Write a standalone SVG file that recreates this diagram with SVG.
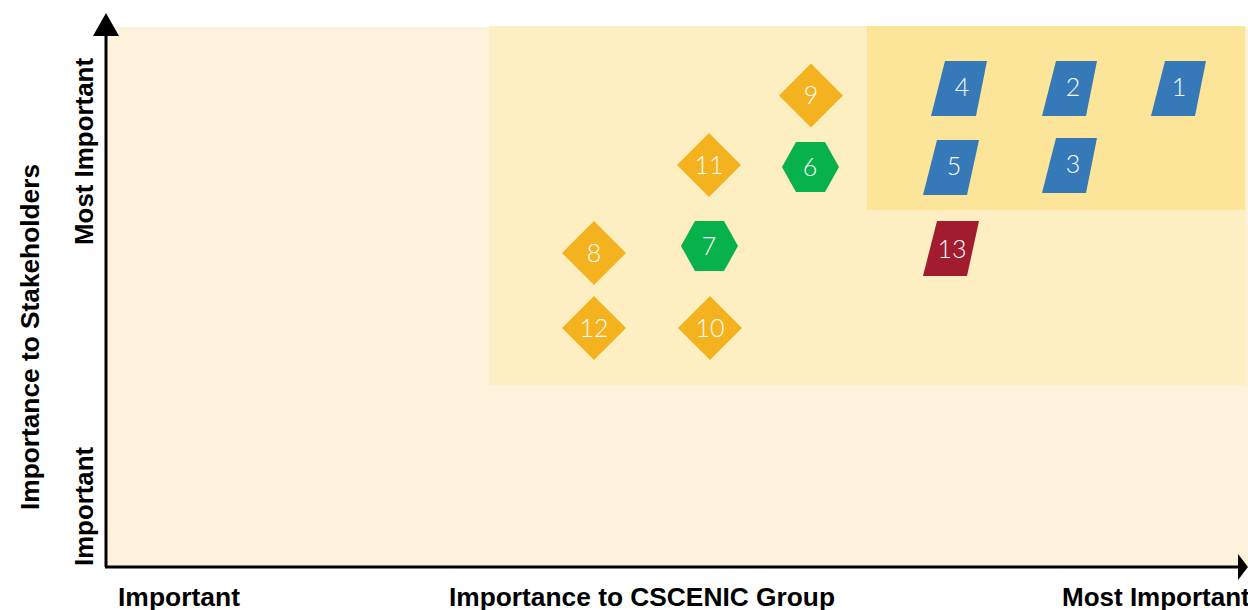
<svg xmlns="http://www.w3.org/2000/svg" width="1248" height="610" viewBox="0 0 1248 610">
<defs>
<style>
.lbl{font-family:"Lato","Open Sans","Liberation Sans",sans-serif;font-weight:300;font-size:25px;fill:#ffffff;text-anchor:middle}
.ax{font-family:"Liberation Sans",Arial,sans-serif;font-weight:bold;font-size:26px;fill:#000000}
.dia{fill:#F5B21F}
.hex{fill:#07B14C}
.par{fill:#3579B8}
.red{fill:#A11C2F}
.axis{stroke:#000;stroke-width:3;fill:none}
</style>
</defs>
<rect width="1248" height="610" fill="#ffffff"/>
<g id="zones">
<rect x="107" y="27" width="1141" height="539" fill="#FDF3DD"/>
<rect x="489" y="26" width="757" height="359" fill="#FEEFC2"/>
<rect x="867" y="26" width="378" height="184" fill="#FCE498"/>
</g>
<g id="axes">
<line class="axis" x1="106" y1="567" x2="106" y2="32"/>
<polygon points="93,36 106,13 119,36" fill="#000"/>
<line class="axis" x1="105" y1="567" x2="1240" y2="567"/>
<polygon points="1238,554 1248,567 1238,580" fill="#000"/>
</g>
<g id="axis-labels">
<text class="ax" x="118" y="606" textLength="122" lengthAdjust="spacingAndGlyphs">Important</text>
<text class="ax" x="449" y="606" textLength="386" lengthAdjust="spacingAndGlyphs">Importance to CSCENIC Group</text>
<text class="ax" x="1062" y="606">Most Important</text>
<text class="ax" transform="translate(39,510) rotate(-90)" textLength="346" lengthAdjust="spacingAndGlyphs">Importance to Stakeholders</text>
<text class="ax" transform="translate(93,245) rotate(-90)" textLength="187" lengthAdjust="spacingAndGlyphs">Most Important</text>
<text class="ax" transform="translate(93,566) rotate(-90)" textLength="119" lengthAdjust="spacingAndGlyphs">Important</text>
</g>
<g id="node-9"><polygon class="dia" points="779,95.5 811,63.5 843,95.5 811,127.5"/><text class="lbl" x="811" y="104">9</text></g>
<g id="node-11"><polygon class="dia" points="677,165 709,133 741,165 709,197"/><text class="lbl" x="709" y="174">11</text></g>
<g id="node-8"><polygon class="dia" points="562,253 594,221 626,253 594,285"/><text class="lbl" x="594" y="262">8</text></g>
<g id="node-12"><polygon class="dia" points="562,328 594,296 626,328 594,360"/><text class="lbl" x="594" y="337">12</text></g>
<g id="node-10"><polygon class="dia" points="678,328 710,296 742,328 710,360"/><text class="lbl" x="710" y="337">10</text></g>
<g id="node-6"><polygon class="hex" points="782,167 796,142 825,142 839,167 825,192 796,192"/><text class="lbl" x="810" y="176">6</text></g>
<g id="node-7"><polygon class="hex" points="681,246 695,221 724,221 738,246 724,271 695,271"/><text class="lbl" x="709" y="255">7</text></g>
<g id="node-4"><polygon class="par" points="945,61 987,61 976,116 931,116"/><text class="lbl" x="962" y="96">4</text></g>
<g id="node-2"><polygon class="par" points="1056,61 1097,61 1086,116 1042,116"/><text class="lbl" x="1073" y="96">2</text></g>
<g id="node-1"><polygon class="par" points="1165,61 1206,61 1195,116 1151,116"/><text class="lbl" x="1179" y="96">1</text></g>
<g id="node-5"><polygon class="par" points="937,140 979,140 967,195 923,195"/><text class="lbl" x="954" y="175">5</text></g>
<g id="node-3"><polygon class="par" points="1056,138 1097,138 1086,193 1042,193"/><text class="lbl" x="1073" y="173">3</text></g>
<g id="node-13"><polygon class="red" points="937,221 979,221 967,276 923,276"/><text class="lbl" x="952" y="258">13</text></g>
<g id="connectors"></g>
</svg>
